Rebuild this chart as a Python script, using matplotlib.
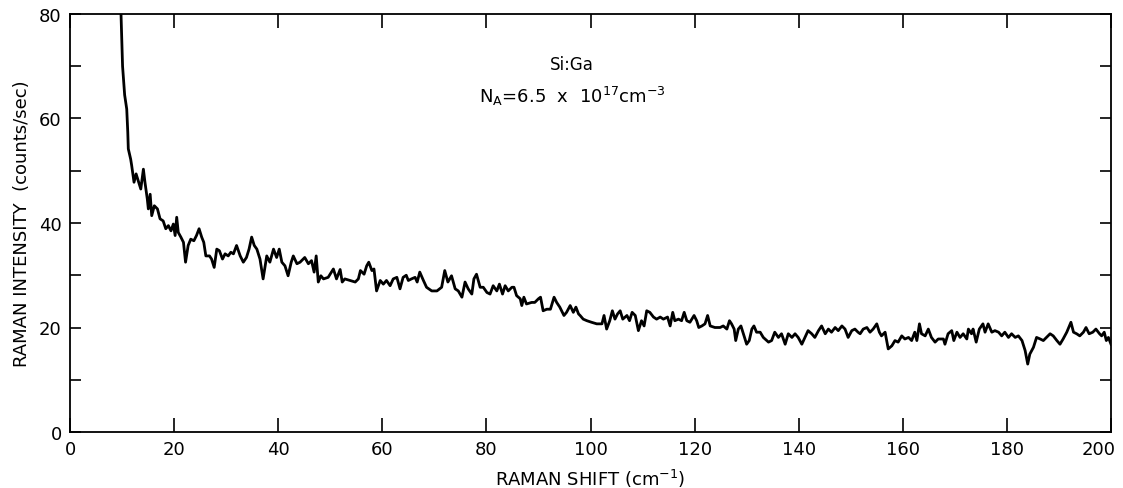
import matplotlib
matplotlib.use('Agg')
import matplotlib.pyplot as plt
from matplotlib.ticker import MultipleLocator
from matplotlib.transforms import ScaledTranslation

# === Data (Raman shift in cm^-1, intensity in counts/sec) ===
shift_steep = [9.8, 10.1, 10.5, 10.9, 11.1, 11.2, 11.66, 11.85, 12.3]
counts_steep = [80.0, 70.0, 64.5, 61.8, 57.4, 54.2, 52.2, 51.0, 47.8]

shift_low = [12.7, 13.1, 13.6, 14.1, 14.4, 14.85, 15.05, 15.4, 15.7, 16.2, 16.8, 17.3, 17.9,
             18.4, 18.9, 19.4, 19.85, 20.2, 20.5, 20.8, 21.3, 21.8, 22.2, 22.7, 23.2, 23.8,
             24.3, 24.8, 25.3, 25.7, 26.1, 26.8, 27.2, 27.7, 28.2, 28.7, 29.3, 29.8, 30.4,
             30.9, 31.4, 32.0, 32.7, 33.3, 33.9, 34.4, 34.9, 35.4, 35.9, 36.5, 37.1, 37.8,
             38.4, 39.1, 39.7, 40.2, 40.7, 41.3, 41.9, 42.5, 42.9, 43.6]
counts_low = [49.4, 48.1, 46.5, 50.3, 47.8, 44.6, 42.7, 45.5, 41.4, 43.3, 42.7, 40.8, 40.4,
              38.9, 39.5, 38.5, 39.8, 37.6, 41.1, 38.2, 37.3, 36.3, 32.5, 35.7, 36.9, 36.6,
              37.6, 38.9, 37.3, 36.3, 33.7, 33.7, 33.1, 31.5, 35.0, 34.7, 33.1, 34.1, 33.7,
              34.4, 34.1, 35.7, 33.7, 32.5, 33.4, 35.0, 37.3, 35.7, 35.0, 33.1, 29.3, 33.7,
              32.5, 35.0, 33.4, 35.0, 32.5, 31.8, 29.9, 32.5, 33.7, 32.2]

shift_mid = [44.2, 45.1, 45.8, 46.4, 46.9, 47.3, 47.7, 48.2, 48.7, 49.6, 50.6, 51.2, 51.9,
             52.3, 52.8, 53.8, 54.8, 55.4, 55.8, 56.5, 57.0, 57.4, 58.0, 58.4, 58.9, 59.6,
             60.2, 60.8, 61.5, 62.1, 62.8, 63.4, 64.0, 64.6, 65.0, 65.6, 66.3, 66.7, 67.2,
             67.9, 68.5, 69.5, 70.5, 71.4, 72.0, 72.6, 73.3, 74.0, 74.6, 75.3, 75.9, 76.5,
             77.2, 77.6, 78.1, 78.8, 79.4, 80.1, 80.7, 81.3, 82.0, 82.5, 83.1, 83.6, 84.2,
             84.9, 85.3, 85.8, 86.5, 86.8, 87.2, 87.7, 88.7, 89.3, 90.0, 90.4, 90.9, 91.6,
             92.3, 93.0, 93.5, 94.1, 94.9, 95.4, 96.1, 96.7, 97.2, 97.7]
counts_mid = [32.5, 33.4, 32.2, 32.8, 30.6, 33.7, 28.7, 29.9, 29.3, 29.6, 31.2, 29.3, 31.1,
              28.7, 29.3, 29.0, 28.7, 29.3, 30.9, 30.2, 31.8, 32.5, 30.9, 31.2, 27.0, 29.0,
              28.3, 29.0, 28.0, 29.3, 29.6, 27.4, 29.6, 30.0, 29.0, 29.3, 29.6, 28.7, 30.6,
              29.0, 27.7, 27.0, 27.0, 27.7, 30.9, 28.7, 29.9, 27.4, 27.0, 25.8, 28.7, 27.4,
              26.4, 29.3, 30.2, 27.7, 27.7, 26.7, 26.4, 28.0, 27.0, 28.3, 26.4, 28.0, 27.0,
              27.7, 27.7, 26.1, 25.5, 24.2, 25.8, 24.5, 24.8, 24.8, 25.5, 25.8, 23.2, 23.5,
              23.5, 25.8, 24.8, 23.9, 22.3, 22.9, 24.2, 22.9, 23.9, 22.6]

shift_tail = [98.0, 98.6, 99.3, 100.2, 101.2, 102.2, 102.6, 103.1, 103.7, 104.2, 104.7, 105.2,
              105.7, 106.2, 107.0, 107.5, 108.0, 108.6, 109.2, 109.8, 110.3, 110.8, 111.4,
              112.1, 112.7, 113.4, 114.0, 114.8, 115.3, 115.8, 116.2, 116.9, 117.5, 118.0,
              118.5, 119.1, 119.9, 120.4, 120.8, 121.4, 122.0, 122.5, 123.0, 123.9, 124.9,
              125.5, 126.2, 126.7, 127.1, 127.6, 127.9, 128.4, 128.9, 129.5, 130.0, 130.5,
              131.0, 131.4, 131.9, 132.6, 133.2, 134.2, 134.8, 135.4, 136.1, 136.7, 137.4,
              138.0, 138.7, 139.3, 139.9, 140.6, 141.2, 141.8, 142.5, 143.1, 143.8, 144.4,
              145.1, 145.7, 146.3, 147.0, 147.6, 148.3, 148.9, 149.5, 150.2, 150.8, 151.4]
counts_tail = [22.3, 21.6, 21.3, 21.0, 20.7, 20.7, 22.3, 19.7, 21.3, 23.2, 21.6, 22.6,
               23.2, 21.6, 22.3, 21.3, 22.9, 22.3, 19.4, 21.3, 20.3, 23.2, 22.9,
               22.0, 21.6, 22.0, 21.6, 22.0, 20.3, 22.9, 21.3, 21.6, 21.3, 22.9,
               21.3, 21.0, 22.3, 21.3, 20.0, 20.3, 20.7, 22.3, 20.3, 20.0, 20.0,
               20.3, 19.7, 21.3, 20.7, 19.7, 17.5, 19.7, 20.3, 18.4, 16.8, 17.5,
               19.7, 20.3, 19.1, 19.1, 18.1, 17.2, 17.5, 19.1, 18.1, 18.8, 16.8,
               18.8, 18.1, 18.8, 18.1, 16.8, 18.1, 19.4, 18.8, 18.1, 19.4, 20.3,
               18.8, 19.7, 19.1, 20.0, 19.4, 20.3, 19.7, 18.1, 19.4, 19.7, 19.1]

shift_end = [151.8, 152.4, 153.1, 153.7, 154.3, 155.0, 155.5, 155.9, 156.6, 157.2, 157.9,
             158.5, 159.1, 159.8, 160.4, 161.1, 161.7, 162.3, 162.7, 163.2, 163.6, 164.3,
             164.9, 165.5, 166.2, 166.8, 167.8, 168.1, 168.7, 169.4, 169.8, 170.4, 171.0,
             171.6, 172.3, 172.6, 173.2, 173.5, 174.1, 174.7, 175.4, 175.8, 176.4, 177.1,
             177.7, 178.4, 179.0, 179.6, 180.3, 180.9, 181.6, 182.2, 182.9, 183.5, 184.0,
             184.4, 185.1, 185.7, 186.4, 187.0, 187.6, 188.3, 188.9, 189.6, 190.2, 190.8,
             191.5, 192.3, 192.8, 193.4, 194.0, 194.7, 195.2, 195.8, 196.5, 197.1, 197.8,
             198.2, 198.7, 199.1, 199.5, 200.0]
counts_end = [18.8, 19.7, 20.0, 19.1, 19.7, 20.7, 19.1, 18.4, 19.1, 15.9, 16.5,
              17.5, 17.2, 18.4, 17.8, 18.1, 17.5, 19.1, 17.5, 20.7, 18.8, 18.4,
              19.7, 18.1, 17.2, 17.8, 17.8, 16.8, 18.8, 19.4, 17.5, 19.1, 18.1,
              18.8, 17.8, 19.7, 18.8, 19.7, 17.2, 19.7, 20.7, 19.1, 20.7, 19.1,
              19.4, 19.1, 18.4, 19.1, 18.1, 18.8, 18.1, 18.4, 17.5, 15.6, 13.0,
              14.9, 16.2, 18.1, 17.8, 17.5, 18.1, 18.8, 18.4, 17.5, 16.8, 17.8,
              19.1, 21.0, 19.1, 18.8, 18.4, 19.1, 20.0, 18.8, 19.1, 19.7, 18.8,
              18.4, 19.1, 17.5, 18.1, 16.8]

shift = shift_steep + shift_low + shift_mid + shift_tail + shift_end
counts = counts_steep + counts_low + counts_mid + counts_tail + counts_end

x_ticks = [0, 20, 40, 60, 80, 100, 120, 140, 160, 180, 200]
y_ticks = [0, 20, 40, 60, 80]

plt.rcParams['font.family'] = ['DejaVu Sans']
plt.rcParams['mathtext.default'] = 'regular'

fig = plt.figure(figsize=(11.23, 4.89), dpi=100)
ax = fig.add_axes([70 / 1123, 56 / 489, 1041 / 1123, 418 / 489])

ax.plot(shift, counts, color='black', linewidth=2.0, solid_joinstyle='round')

ax.set_xlim(0, 200)
ax.set_ylim(0, 80)
ax.set_xticks(x_ticks)
ax.set_xticklabels([str(t) for t in x_ticks])
ax.set_yticks(y_ticks)
ax.yaxis.set_minor_locator(MultipleLocator(10))
ax.tick_params(axis='x', which='major', direction='in', length=10, width=1.2,
               top=True, labelsize=13, pad=6)
ax.tick_params(axis='y', which='both', direction='in', length=8, width=1.2,
               right=True, labelsize=13, pad=6)
for s in ax.spines.values():
    s.set_linewidth(1.3)

# last x label sits a little inside the corner, as in the original
last = ax.get_xticklabels()[-1]
last.set_transform(last.get_transform() + ScaledTranslation(-0.12, 0, fig.dpi_scale_trans))

ax.set_xlabel('RAMAN SHIFT (cm$^{-1}$)', fontsize=13, labelpad=6)
ax.set_ylabel('RAMAN INTENSITY  (counts/sec)', fontsize=13, labelpad=6)

ax.text(96.5, 70.5, 'Si:Ga', fontsize=12, ha='center', va='center')
ax.text(96.5, 64.5, 'N$_A$=6.5  x  10$^{17}$cm$^{-3}$', fontsize=13, ha='center', va='center')

fig.savefig('out.png', dpi=100)
